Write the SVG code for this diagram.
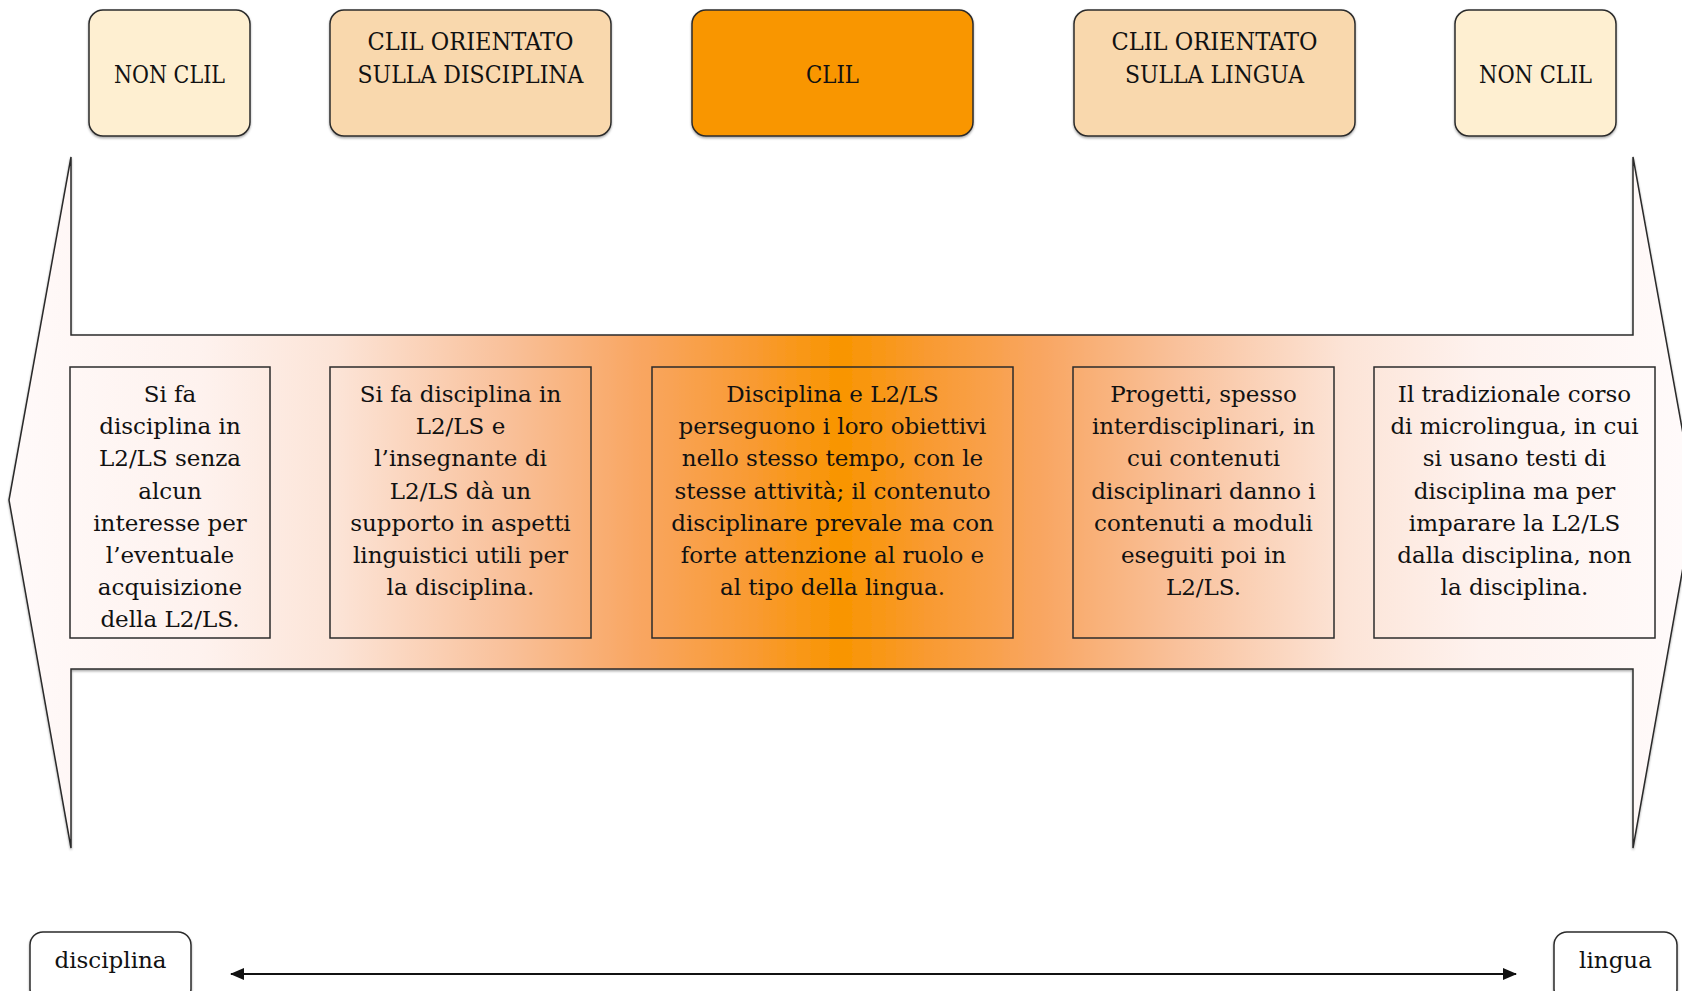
<svg xmlns="http://www.w3.org/2000/svg" width="1682" height="991" viewBox="0 0 1682 991">
  <style>
    .title { font-family: "DejaVu Serif", "Liberation Serif", serif; font-size: 24px; fill: #111; text-anchor: middle; }
    .body { font-family: "DejaVu Serif", "Liberation Serif", serif; font-size: 23px; fill: #111; text-anchor: middle; }
    .head { stroke: #2b2b2b; stroke-width: 1.5; filter: url(#shadow); }
    .pale { fill: #FEEFD1; }
    .mid { fill: #F9D8AD; }
    .core { fill: #F99600; }
    .cell { fill: none; stroke: #2b2b2b; stroke-width: 1.5; }
    .end { fill: #ffffff; stroke: #2b2b2b; stroke-width: 1.5; filter: url(#shadow); }
    .link { stroke: #111; stroke-width: 2; fill: none; }
  </style>
  <defs>
    <filter id="shadow" x="-5%" y="-5%" width="110%" height="115%">
      <feDropShadow dx="0" dy="1.5" stdDeviation="1" flood-color="#000" flood-opacity="0.35"/>
    </filter>
    <linearGradient id="band" gradientUnits="userSpaceOnUse" x1="0" y1="0" x2="1682" y2="0">
      <stop offset="0" stop-color="#FFFAFA"/>
      <stop offset="0.12" stop-color="#FEF2EE"/>
      <stop offset="0.2" stop-color="#FCE4D7"/>
      <stop offset="0.3" stop-color="#F9C19B"/>
      <stop offset="0.38" stop-color="#F9A662"/>
      <stop offset="0.45" stop-color="#F99A30"/>
      <stop offset="0.5" stop-color="#F99500"/>
      <stop offset="0.55" stop-color="#F99A30"/>
      <stop offset="0.62" stop-color="#F9A662"/>
      <stop offset="0.7" stop-color="#F9C19B"/>
      <stop offset="0.8" stop-color="#FCE4D7"/>
      <stop offset="0.88" stop-color="#FEF2EE"/>
      <stop offset="1" stop-color="#FFFAFA"/>
    </linearGradient>
    <marker id="tip" viewBox="0 0 14 12" refX="13" refY="6" markerWidth="14" markerHeight="12" markerUnits="userSpaceOnUse" orient="auto-start-reverse">
      <path d="M0,0 L14,6 L0,12 Z" fill="#111"/>
    </marker>
  </defs>

  <!-- double-headed band arrow behind the descriptions -->
  <g id="band-arrow">
    <path d="M9,500 L71,157 L71,335 L1633,335 L1633,157 L1695,500 L1633,848 L1633,669 L71,669 L71,848 Z"
          fill="url(#band)" stroke="#2b2b2b" stroke-width="1.5" stroke-linejoin="miter" filter="url(#shadow)"/>
  </g>

  <!-- category headers -->
  <g id="head-non-clil-left">
    <rect class="head pale" x="89" y="10" width="161" height="126" rx="14"/>
    <text class="title" x="169.5" y="83" textLength="111" lengthAdjust="spacingAndGlyphs">NON CLIL</text>
  </g>
  <g id="head-clil-disciplina">
    <rect class="head mid" x="330" y="10" width="281" height="126" rx="14"/>
    <text class="title" x="470.5" y="50" textLength="206" lengthAdjust="spacingAndGlyphs">CLIL ORIENTATO</text>
    <text class="title" x="470.5" y="83" textLength="226" lengthAdjust="spacingAndGlyphs">SULLA DISCIPLINA</text>
  </g>
  <g id="head-clil">
    <rect class="head core" x="692" y="10" width="281" height="126" rx="14"/>
    <text class="title" x="832.5" y="83" textLength="53" lengthAdjust="spacingAndGlyphs">CLIL</text>
  </g>
  <g id="head-clil-lingua">
    <rect class="head mid" x="1074" y="10" width="281" height="126" rx="14"/>
    <text class="title" x="1214.5" y="50" textLength="206" lengthAdjust="spacingAndGlyphs">CLIL ORIENTATO</text>
    <text class="title" x="1214.5" y="83" textLength="179" lengthAdjust="spacingAndGlyphs">SULLA LINGUA</text>
  </g>
  <g id="head-non-clil-right">
    <rect class="head pale" x="1455" y="10" width="161" height="126" rx="14"/>
    <text class="title" x="1535.5" y="83" textLength="113" lengthAdjust="spacingAndGlyphs">NON CLIL</text>
  </g>

  <!-- descriptions inside the band -->
  <g id="desc-1">
    <rect class="cell" x="70" y="367" width="200" height="271"/>
    <text class="body" x="170" y="402">Si fa</text>
    <text class="body" x="170" y="434">disciplina in</text>
    <text class="body" x="170" y="466">L2/LS senza</text>
    <text class="body" x="170" y="498.5">alcun</text>
    <text class="body" x="170" y="531">interesse per</text>
    <text class="body" x="170" y="563">l’eventuale</text>
    <text class="body" x="170" y="595">acquisizione</text>
    <text class="body" x="170" y="627">della L2/LS.</text>
  </g>
  <g id="desc-2">
    <rect class="cell" x="330" y="367" width="261" height="271"/>
    <text class="body" x="460.5" y="402">Si fa disciplina in</text>
    <text class="body" x="460.5" y="434">L2/LS e</text>
    <text class="body" x="460.5" y="466">l’insegnante di</text>
    <text class="body" x="460.5" y="498.5">L2/LS dà un</text>
    <text class="body" x="460.5" y="531">supporto in aspetti</text>
    <text class="body" x="460.5" y="563">linguistici utili per</text>
    <text class="body" x="460.5" y="595">la disciplina.</text>
  </g>
  <g id="desc-3">
    <rect class="cell" x="652" y="367" width="361" height="271"/>
    <text class="body" x="832.5" y="402">Disciplina e L2/LS</text>
    <text class="body" x="832.5" y="434">perseguono i loro obiettivi</text>
    <text class="body" x="832.5" y="466">nello stesso tempo, con le</text>
    <text class="body" x="832.5" y="498.5">stesse attività; il contenuto</text>
    <text class="body" x="832.5" y="531">disciplinare prevale ma con</text>
    <text class="body" x="832.5" y="563">forte attenzione al ruolo e</text>
    <text class="body" x="832.5" y="595">al tipo della lingua.</text>
  </g>
  <g id="desc-4">
    <rect class="cell" x="1073" y="367" width="261" height="271"/>
    <text class="body" x="1203.5" y="402">Progetti, spesso</text>
    <text class="body" x="1203.5" y="434">interdisciplinari, in</text>
    <text class="body" x="1203.5" y="466">cui contenuti</text>
    <text class="body" x="1203.5" y="498.5">disciplinari danno i</text>
    <text class="body" x="1203.5" y="531">contenuti a moduli</text>
    <text class="body" x="1203.5" y="563">eseguiti poi in</text>
    <text class="body" x="1203.5" y="595">L2/LS.</text>
  </g>
  <g id="desc-5">
    <rect class="cell" x="1374" y="367" width="281" height="271"/>
    <text class="body" x="1514.5" y="402">Il tradizionale corso</text>
    <text class="body" x="1514.5" y="434">di microlingua, in cui</text>
    <text class="body" x="1514.5" y="466">si usano testi di</text>
    <text class="body" x="1514.5" y="498.5">disciplina ma per</text>
    <text class="body" x="1514.5" y="531">imparare la L2/LS</text>
    <text class="body" x="1514.5" y="563">dalla disciplina, non</text>
    <text class="body" x="1514.5" y="595">la disciplina.</text>
  </g>

  <!-- axis end labels -->
  <g id="end-disciplina">
    <rect class="end" x="30" y="932" width="161" height="70" rx="13"/>
    <text class="body" x="110.5" y="968">disciplina</text>
  </g>
  <g id="end-lingua">
    <rect class="end" x="1554" y="932" width="123" height="70" rx="13"/>
    <text class="body" x="1615.5" y="968">lingua</text>
  </g>

  <g id="connectors">
    <line class="link" x1="231" y1="974" x2="1516" y2="974" marker-start="url(#tip)" marker-end="url(#tip)"/>
  </g>
</svg>
